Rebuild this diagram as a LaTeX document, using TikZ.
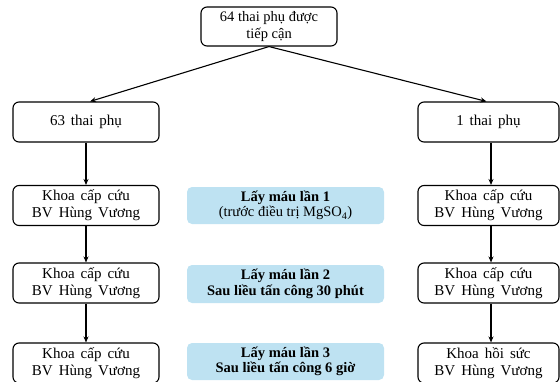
\documentclass[tikz,border=0pt]{standalone}
\usepackage{fontspec}
\setmainfont{Liberation Serif}
\usetikzlibrary{arrows.meta}
\definecolor{boxblue}{RGB}{190,226,242}
\newcommand{\colfont}{\fontsize{15}{17}\selectfont\spaceskip=0.4em plus 0.1em\relax}
\tikzset{
  wbox/.style={draw=black, line width=1.1pt, rounded corners=6pt, fill=white,
    minimum height=39pt, align=center, inner sep=0pt,
    font=\colfont},
  topbox/.style={wbox, font=\fontsize{14.5}{17}\selectfont},
  bbox/.style={fill=boxblue, rounded corners=5pt, minimum width=197pt,
    minimum height=37pt, align=center, inner sep=0pt,
    font=\fontsize{14.5}{15.5}\selectfont},
  conn/.style={line width=1.1pt, -{Stealth[length=6pt,width=5pt]}},
}
\begin{document}
\begin{tikzpicture}[x=1pt,y=-1pt]
\useasboundingbox (0,0) rectangle (560,381);
\clip (0,0) rectangle (560,381);
\node[topbox, minimum width=136pt] (top) at (269,26.5) {64 thai phụ được\\tiếp cận};
\node[wbox, minimum width=146pt, minimum height=40pt] (l0) at (86,122) {63 thai phụ};
\node[wbox, minimum width=146pt, minimum height=40pt] (l1) at (86,205.5) {Khoa cấp cứu\\BV Hùng Vương};
\node[wbox, minimum width=146pt, minimum height=40pt] (l2) at (86,283) {Khoa cấp cứu\\BV Hùng Vương};
\node[wbox, minimum width=146pt, minimum height=40pt] (l3) at (86,363) {Khoa cấp cứu\\BV Hùng Vương};
\node[wbox, minimum width=141pt, minimum height=40pt] (r0) at (488.5,122) {1 thai phụ};
\node[wbox, minimum width=141pt, minimum height=40pt] (r1) at (488.5,205.5) {Khoa cấp cứu\\BV Hùng Vương};
\node[wbox, minimum width=141pt, minimum height=40pt] (r2) at (488.5,283) {Khoa cấp cứu\\BV Hùng Vương};
\node[wbox, minimum width=141pt, minimum height=40pt] (r3) at (488.5,363) {Khoa hồi sức\\BV Hùng Vương};
\node[bbox] (b1) at (285.5,205.5) {\textbf{Lấy máu lần 1}\\(trước điều trị MgSO\textsubscript{4})};
\node[bbox, minimum height=38pt] (b2) at (285.5,284) {\textbf{Lấy máu lần 2}\\\textbf{Sau liều tấn công 30 phút}};
\node[bbox] (b3) at (285.5,361.5) {\textbf{Lấy máu lần 3}\\\textbf{Sau liều tấn công 6 giờ}};
\draw[conn] (top.south) -- ([xshift=4pt]l0.north);
\draw[conn] (top.south) -- ([xshift=-2pt]r0.north);
\draw[conn] (l0) -- (l1);
\draw[conn] (l1) -- (l2);
\draw[conn] (l2) -- (l3);
\draw[conn] ([xshift=2.5pt]r0.south) -- ([xshift=2.5pt]r1.north);
\draw[conn] ([xshift=2.5pt]r1.south) -- ([xshift=2.5pt]r2.north);
\draw[conn] ([xshift=2.5pt]r2.south) -- ([xshift=2.5pt]r3.north);
\end{tikzpicture}
\end{document}
